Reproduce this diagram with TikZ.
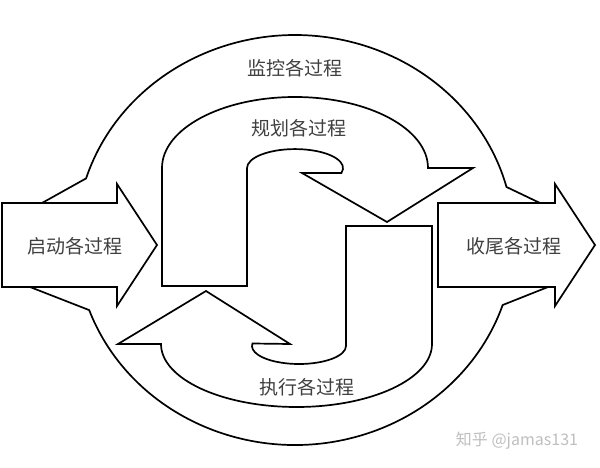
\documentclass[tikz,border=0pt]{standalone}
\usepackage{fontspec}
\newfontfamily\cjk{Noto Sans CJK SC}
\begin{document}
\begin{tikzpicture}[x=1pt,y=1pt,
  blockshape/.style={draw=black,line width=1.7pt,fill=white,line join=miter},
  ring/.style={draw=black,line width=1.7pt},
  lbl/.style={inner sep=0pt,text=black!75,font=\cjk\fontsize{19}{19}\selectfont},
  wm/.style={inner sep=0pt,text=black!25,font=\cjk\fontsize{16}{16}\selectfont}]
\useasboundingbox (0,0) rectangle (600,467);
\fill[white] (0,0) rectangle (600,467);
% outer ring (monitoring)
\coordinate (c) at (295,227);
\coordinate (ringTL) at (86.1,288.6);
\coordinate (ringTR) at (506.5,280.1);
\coordinate (ringBL) at (89.2,156.9);
\coordinate (ringBR) at (502.7,162);
\coordinate (lTop) at (42,264);
\coordinate (lBot) at (30,180);
\coordinate (rTop) at (540,264);
\coordinate (rBot) at (548,180);
\draw[ring] (lTop) -- (ringTL) arc[start angle=162.5,end angle=15,x radius=219,y radius=205] -- (rTop);
\draw[ring] (lBot) -- (ringBL) arc[start angle=200,end angle=341.5,x radius=219,y radius=205] -- (rBot);
% start / close arrows
\draw[blockshape] (2,264) -- (117,264) -- (117,283) -- (157,222) -- (117,161) -- (117,180) -- (2,180) -- cycle;
\draw[blockshape] (438,264) -- (555,264) -- (555,283) -- (595,222) -- (555,161) -- (555,180) -- (438,180) -- cycle;
% planning
\draw[blockshape] (162,181) -- (162,299) arc[start angle=180,end angle=0,x radius=133,y radius=71]
  -- (473,299) -- (387,245) -- (302,294) -- (341.4,294)
  arc[start angle=-15,end angle=180,x radius=48,y radius=19] -- (247,181) -- cycle;
% executing
\draw[blockshape] (432,241) -- (346,241) -- (346,121)
  arc[start angle=0,end angle=-188,x radius=47,y radius=18] -- (290,123) -- (206,176) -- (118,123) -- (161,123)
  arc[start angle=180,end angle=360,x radius=135.5,y radius=63] -- cycle;
% labels
\node[lbl] (monitor) at (295,399) {监控各过程};
\node[lbl] (plan) at (299,339) {规划各过程};
\node[lbl] (exec) at (307,80) {执行各过程};
\node[lbl] (start) at (75,221) {启动各过程};
\node[lbl] (close) at (514,221) {收尾各过程};
\node[wm] (mark) at (517,26) {知乎 @jamas131};
\end{tikzpicture}
\end{document}
